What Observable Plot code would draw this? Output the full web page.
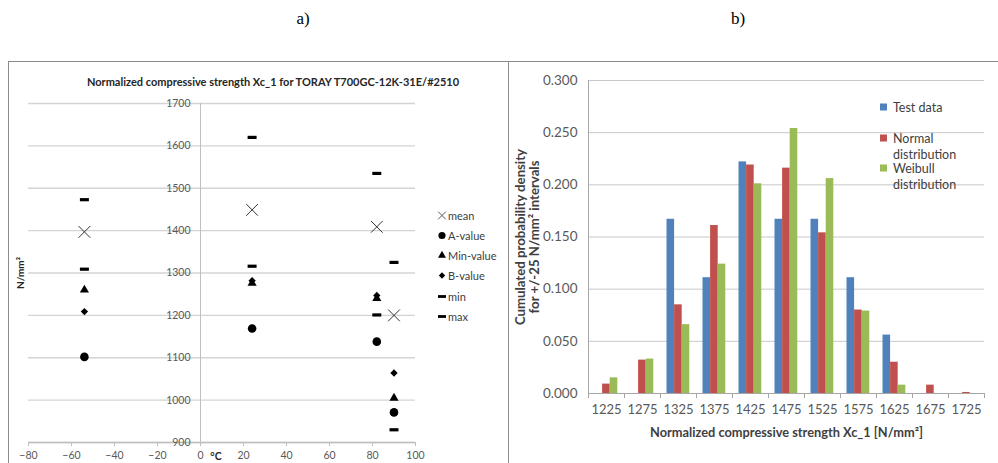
<!DOCTYPE html>
<html>
<head>
<meta charset="utf-8">
<script src="https://cdn.jsdelivr.net/npm/d3@7"></script>
<script src="https://cdn.jsdelivr.net/npm/@observablehq/plot@0.6"></script>
<style>
html,body{margin:0;padding:0;width:998px;height:463px;overflow:hidden;background:#fff;font-family:Lato,"Open Sans",sans-serif}
#root{position:relative;width:998px;height:463px;overflow:hidden}
.lbl{position:absolute;font-family:"Liberation Serif","DejaVu Serif",serif;font-size:17px;color:#000;transform:translate(-50%,-50%)}
.leg{position:absolute;font-family:Lato,sans-serif;color:#404040;white-space:nowrap}
.leg .row{position:absolute;display:flex;align-items:center;transform:translateY(-50%)}
</style>
</head>
<body>
<div id="root"></div>
<script>
// ---------- Panel a data ----------
const temps        = [-54, 24, 82, 90];
const meanVals     = [1397, 1449, 1409, 1200];
const aVals        = [1102, 1169, 1138, 971];
const minValueVals = [1260, 1276, 1240, 1005];
const bVals        = [1209, 1282, 1247, 1064];
const minVals      = [1309, 1316, 1201, 930];
const maxVals      = [1473, 1620, 1535, 1325];
const yTicksA = [900, 1000, 1100, 1200, 1300, 1400, 1500, 1600, 1700];
const xTicksA = [-80, -60, -40, -20, 0, 20, 40, 60, 80, 100];
const titleA = "Normalized compressive strength Xc_1 for TORAY T700GC-12K-31E/#2510";
const legendA = ["mean", "A-value", "Min-value", "B-value", "min", "max"];

// ---------- Panel b data ----------
const categories = ["1225","1275","1325","1375","1425","1475","1525","1575","1625","1675","1725"];
const seriesNames = ["Test data", "Normal distribution", "Weibull distribution"];
const testData    = [0, 0, 0.167, 0.111, 0.222, 0.167, 0.167, 0.111, 0.056, 0, 0];
const normalDist  = [0.009, 0.032, 0.085, 0.161, 0.219, 0.216, 0.154, 0.080, 0.030, 0.008, 0.001];
const weibullDist = [0.015, 0.033, 0.066, 0.124, 0.201, 0.254, 0.206, 0.079, 0.008, 0, 0];
const yTicksB = [0, 0.05, 0.10, 0.15, 0.20, 0.25, 0.30];
const colorsB = ["#4F81BD", "#C0504D", "#9BBB59"];
const xTitleB = "Normalized compressive strength Xc_1 [N/mm²]";
const yTitleB = "Cumulated probability density\nfor +/-25 N/mm² intervals";

const root = document.getElementById("root");
function place(el, left, top) {
  el.style.position = "absolute";
  el.style.left = left + "px";
  el.style.top = top + "px";
  root.appendChild(el);
  return el;
}
function div(cls, html) { const d = document.createElement("div"); if (cls) d.className = cls; if (html != null) d.textContent = html; return d; }

// Labels a) b)
place(div("lbl", "a)"), 303, 19);
place(div("lbl", "b)"), 738, 19);

// Frames
const frame = div(); frame.style.cssText = "width:1000px;height:430px;border:1.5px solid #8c8c8c;box-sizing:border-box";
place(frame, 8, 61);
const divider = div(); divider.style.cssText = "width:1.5px;height:420px;background:#8c8c8c";
place(divider, 507.5, 61);

// ---------- Panel a plot ----------
const rowsA = temps.map((t, i) => ({t, mean: meanVals[i], a: aVals[i], minv: minValueVals[i], b: bVals[i], min: minVals[i], max: maxVals[i]}));
const dash = {draw(ctx) { ctx.rect(-4.5, -1.6, 9, 3.2); }};

const plotA = Plot.plot({
  width: 500, height: 410,
  marginLeft: 20, marginRight: 93, marginTop: 41, marginBottom: 30,
  style: {fontFamily: "Lato, sans-serif", background: "none", overflow: "visible", color: "#595959"},
  x: {domain: [-80, 100]},
  y: {domain: [900, 1700], axis: null},
  marks: [
    Plot.ruleY(yTicksA, {stroke: "#d4d4d4", strokeWidth: 1.3}),
    Plot.ruleX([0], {stroke: "#bfbfbf"}),
    Plot.ruleY([900], {stroke: "#bfbfbf", strokeWidth: 1.3}),
    Plot.axisX({ticks: xTicksA, tickSize: 4, tickPadding: 5, fontSize: 10.5, stroke: "#bfbfbf", color: "#595959", label: null}),
    Plot.text(yTicksA, {x: 0, y: d => d, text: d => String(d), textAnchor: "end", dx: -10, fontSize: 10.5, fill: "#595959"}),
    Plot.dot(rowsA, {x: "t", y: "max", symbol: dash, fill: "#000", stroke: "none"}),
    Plot.dot(rowsA, {x: "t", y: "min", symbol: dash, fill: "#000", stroke: "none"}),
    Plot.dot(rowsA, {x: "t", y: "a", symbol: "circle", r: 4.3, fill: "#000", stroke: "none"}),
    Plot.dot(rowsA, {x: "t", y: "b", symbol: d3.symbolDiamond2, r: 3.3, fill: "#000", stroke: "none"}),
    Plot.dot(rowsA, {x: "t", y: "minv", symbol: d3.symbolTriangle, r: 3.4, fill: "#000", stroke: "none"}),
    Plot.dot(rowsA, {x: "t", y: "mean", symbol: "times", r: 5.4, stroke: "#333", strokeWidth: 1, fill: "none"}),
    Plot.text([titleA], {frameAnchor: "top", lineAnchor: "middle", textAnchor: "middle", dx: 51, dy: -21, fontWeight: "bold", fontSize: 11, fill: "#262626"}),
    Plot.text(["N/mm²"], {frameAnchor: "left", lineAnchor: "middle", textAnchor: "middle", rotate: -90, dx: -8, fontWeight: "bold", fontSize: 10, fill: "#262626"}),
    Plot.text(["°C"], {frameAnchor: "bottom", lineAnchor: "middle", textAnchor: "middle", dx: -6, dy: 14, fontWeight: "bold", fontSize: 10.5, fill: "#262626"})
  ]
});
place(plotA, 8, 62);

// Legend a
const legA = place(div("leg"), 0, 0);
const symA = [
  {type: d3.symbolTimes, size: 40, fill: "none", stroke: "#595959"},
  {type: d3.symbolCircle, size: 40, fill: "#000"},
  {type: d3.symbolTriangle, size: 28, fill: "#000"},
  {type: d3.symbolDiamond2, size: 26, fill: "#000"},
  {type: "dash", fill: "#000"},
  {type: "dash", fill: "#000"}
];
const legAY = [215, 235, 255, 275, 296, 316];
legendA.forEach((name, i) => {
  const row = div("row");
  row.style.left = "437px"; row.style.top = legAY[i] + "px"; row.style.fontSize = "11px";
  const s = symA[i];
  let inner;
  if (s.type === "dash") inner = `<rect x="1" y="3.6" width="8" height="2.8" fill="${s.fill}"/>`;
  else inner = `<path transform="translate(5,5)" d="${d3.symbol().type(s.type).size(s.size)()}" fill="${s.fill}" stroke="${s.stroke || "none"}" stroke-width="1"/>`;
  row.innerHTML = `<svg width="10" height="10" style="margin-right:1px">${inner}</svg><span>${name}</span>`;
  legA.appendChild(row);
});

// ---------- Panel b plot ----------
const seriesB = [testData, normalDist, weibullDist];
const bandW = 36, padL = 6.5, barW = 7.6;
const plotB = Plot.plot({
  width: 490, height: 410,
  marginLeft: 80, marginRight: 14, marginTop: 18, marginBottom: 79,
  style: {fontFamily: "Lato, sans-serif", background: "none", overflow: "visible", color: "#595959"},
  x: {domain: categories, padding: 0},
  y: {domain: [0, 0.3]},
  marks: [
    Plot.ruleY(yTicksB.slice(1), {stroke: "#c8c8c8"}),
    ...seriesB.map((vals, j) => Plot.barY(categories, {
      x: d => d, y: (d, i) => vals[i], fill: colorsB[j],
      insetLeft: padL + barW * j, insetRight: bandW - padL - barW * (j + 1)
    })),
    Plot.ruleY([0], {stroke: "#a6a6a6"}),
    Plot.ruleX([categories[0]], {x: d => d, dx: -bandW / 2, stroke: "#a6a6a6"}),
    Plot.ruleX(categories, {x: d => d, dx: -bandW / 2, y1: 0, y2: 0, insetBottom: -5, stroke: "#a6a6a6"}),
    Plot.ruleX([categories[categories.length - 1]], {x: d => d, dx: bandW / 2, y1: 0, y2: 0, insetBottom: -5, stroke: "#a6a6a6"}),
    Plot.axisY({ticks: yTicksB, tickSize: 0, tickPadding: 11, tickFormat: d3.format(".3f"), fontSize: 13.5, color: "#595959", label: null}),
    Plot.axisX({tickSize: 0, tickPadding: 11, fontSize: 13, color: "#595959", label: null}),
    Plot.text([xTitleB], {frameAnchor: "bottom", lineAnchor: "middle", textAnchor: "middle", dy: 39, fontWeight: "bold", fontSize: 12.8, fill: "#404040"}),
    Plot.text([yTitleB], {frameAnchor: "left", lineAnchor: "middle", textAnchor: "middle", rotate: -90, dx: -61, fontWeight: "bold", fontSize: 13.2, lineHeight: 1.05, fill: "#404040"})
  ]
});
place(plotB, 508, 62);

// Legend b
const legB = place(div("leg"), 0, 0);
const legBRows = [
  {sq: 0, lines: ["Test data"], y: 107},
  {sq: 1, lines: ["Normal", "distribution"], y: 138},
  {sq: 2, lines: ["Weibull", "distribution"], y: 168}
];
legBRows.forEach(r => {
  r.lines.forEach((t, k) => {
    const row = div("row");
    row.style.left = "880px"; row.style.top = (r.y + k * 15.5) + "px"; row.style.fontSize = "12.5px";
    const sw = k === 0 ? `<span style="display:inline-block;width:7px;height:7px;background:${colorsB[r.sq]};margin-right:6px"></span>`
                       : `<span style="display:inline-block;width:7px;height:7px;margin-right:6px"></span>`;
    row.innerHTML = sw + `<span>${t}</span>`;
    legB.appendChild(row);
  });
});
</script>
</body>
</html>
